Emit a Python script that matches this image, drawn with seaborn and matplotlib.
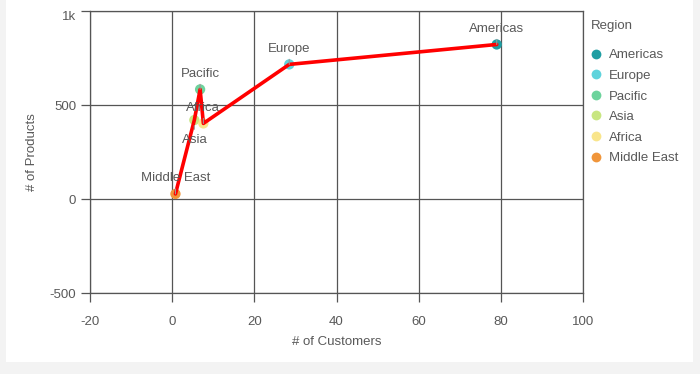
import matplotlib
matplotlib.use("Agg")
import matplotlib.pyplot as plt
import seaborn as sns
import pandas as pd
from matplotlib.patches import Rectangle

regions = ["Americas", "Europe", "Pacific", "Asia", "Africa", "Middle East"]
customers = [79, 28.5, 6.8, 5.4, 7.6, 0.8]
products = [822, 716, 583, 420, 402, 27]
colors = ["#1f9ea3", "#5fd3dc", "#6dd39c", "#c8e681", "#f9e58b", "#f0953a"]
label_pos = ["above", "above", "above", "below", "above", "above"]
x_ticks = [-20, 0, 20, 40, 60, 80, 100]
y_ticks = [-500, 0, 500, 1000]
y_tick_labels = ["-500", "0", "500", "1k"]

df = pd.DataFrame({"Region": regions, "Customers": customers, "Products": products})

sns.set_theme(style="white")
plt.rcParams['font.family'] = ['Liberation Sans', 'DejaVu Sans']

TXT = "#595959"
fig = plt.figure(figsize=(7, 3.74), dpi=100)
fig.patch.set_facecolor("#f3f3f3")
fig.patches.append(Rectangle((6/700, 1 - 362/374), 687/700, 362/374, transform=fig.transFigure,
                             facecolor="white", edgecolor="none", zorder=-10))

ax = fig.add_axes([90/700, 1 - 293/374, (583-90)/700, (293-11)/374])
ax.set_facecolor("white")

sns.scatterplot(data=df, x="Customers", y="Products", hue="Region", hue_order=regions,
                palette=colors, s=55, edgecolor="none", ax=ax, zorder=3)
sns.lineplot(data=df, x="Customers", y="Products", sort=True, color="#ff0000", lw=2.6,
             ax=ax, zorder=4, legend=False)

for r, x, y, p in zip(regions, customers, products, label_pos):
    if p == "above":
        ax.annotate(r, xy=(x, y), xytext=(0, 7), textcoords="offset points",
                    ha="center", va="bottom", fontsize=9.5, color=TXT, zorder=5,
                    arrowprops=dict(arrowstyle="-", color="#999999", lw=0.8, shrinkA=1, shrinkB=4))
    else:
        ax.annotate(r, xy=(x, y), xytext=(0, -10), textcoords="offset points",
                    ha="center", va="top", fontsize=9.5, color=TXT, zorder=5,
                    arrowprops=dict(arrowstyle="-", color="#999999", lw=0.8, shrinkA=1, shrinkB=4))

ax.set_xlim(-20, 100)
ax.set_ylim(-500, 1000)
ax.set_xticks(x_ticks)
ax.set_xticklabels([str(t) for t in x_ticks])
ax.set_yticks(y_ticks)
ax.set_yticklabels(y_tick_labels)
ax.get_yticklabels()[-1].set_verticalalignment("top")
ax.grid(True, color="#555555", lw=0.9)
ax.set_axisbelow(True)
for s in ax.spines.values():
    s.set_color("#555555")
    s.set_linewidth(0.9)
    s.set_visible(True)
ax.tick_params(axis="both", which="major", direction="out", length=6.5, width=0.9,
               color="#555555", labelcolor=TXT, labelsize=9.5,
               bottom=True, left=True)
ax.tick_params(axis="x", pad=10)
ax.tick_params(axis="y", pad=3.5)
ax.set_xlabel("# of Customers", fontsize=9.5, color=TXT, labelpad=6)
ax.set_ylabel("# of Products", fontsize=9.5, color=TXT, labelpad=8)

fig.text(591/700, 1 - 26/374, "Region", fontsize=9.5, color=TXT, ha="left", va="center")
leg = ax.legend(loc="upper left", bbox_to_anchor=(580/700, 1 - 40/374),
                bbox_transform=fig.transFigure, frameon=False, fontsize=9.5,
                handletextpad=0.5, labelspacing=0.63,
                markerscale=0.95, handlelength=1.0, borderpad=0.2)
for t in leg.get_texts():
    t.set_color(TXT)

fig.savefig("out.png", dpi=100, facecolor=fig.get_facecolor())
